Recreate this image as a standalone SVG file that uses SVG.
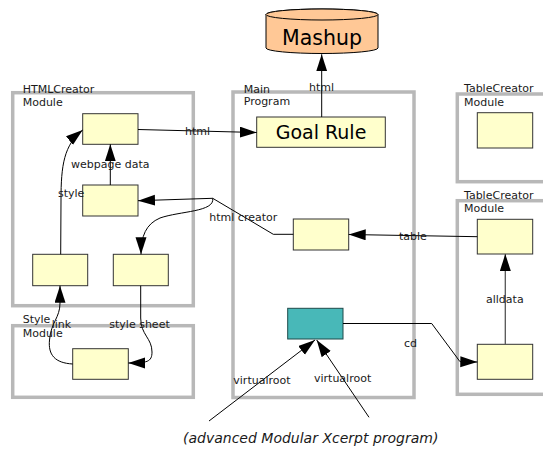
<svg xmlns="http://www.w3.org/2000/svg" width="543" height="456" viewBox="0 0 543 456">
<defs>
<marker id="ah" markerUnits="userSpaceOnUse" markerWidth="18" markerHeight="12" refX="17" refY="5.5" orient="auto">
<path d="M0,0 L17,5.5 L0,11 z" fill="#000"/>
</marker>
<style>
.mod{fill:none;stroke:#b8b8b8;stroke-width:3.5}
.box{fill:#ffffcc;stroke:#333;stroke-width:1}
.lbl{font-family:"DejaVu Sans",Verdana,sans-serif;font-size:11px;fill:#1a1a1a}
.c{fill:none;stroke:#000;stroke-width:1;marker-end:url(#ah)}
.n{fill:none;stroke:#000;stroke-width:1}
</style>
</defs>
<rect width="543" height="456" fill="#fff"/>

<g id="htmlcreator-module">
<rect class="mod" x="12.7" y="92.7" width="180.6" height="213"/>
<text class="lbl" x="22.7" y="92.5">HTMLCreator</text>
<text class="lbl" x="22.7" y="106">Module</text>
</g>
<g id="main-program">
<rect class="mod" x="233" y="92" width="181" height="305.5"/>
<text class="lbl" x="243.7" y="92.7">Main</text>
<text class="lbl" x="243.7" y="105.3">Program</text>
</g>
<g id="tablecreator-module-1">
<rect class="mod" x="457.3" y="94" width="100" height="87.7"/>
<text class="lbl" x="464" y="92.3">TableCreator</text>
<text class="lbl" x="464" y="105.7">Module</text>
</g>
<g id="tablecreator-module-2">
<rect class="mod" x="457.3" y="200.7" width="100" height="193.6"/>
<text class="lbl" x="464" y="199.3">TableCreator</text>
<text class="lbl" x="464" y="211.7">Module</text>
</g>
<g id="style-module">
<rect class="mod" x="12.7" y="325.7" width="180.6" height="71.6"/>
<text class="lbl" x="22.7" y="323.3">Style</text>
<text class="lbl" x="22.7" y="336.7">Module</text>
</g>

<g id="mashup">
<path d="M266,14.5 L266,48 A56,5.5 0 0 0 378,48 L378,14.5 A56,5.5 0 0 0 266,14.5 z" fill="#ffc896" stroke="#000" stroke-width="1"/>
<ellipse cx="322" cy="14.5" rx="56" ry="5.5" fill="#ffc896" stroke="#000" stroke-width="1"/>
<text x="322" y="45" text-anchor="middle" font-family="DejaVu Sans, sans-serif" font-size="20.5" fill="#000">Mashup</text>
</g>
<g id="goal-rule">
<rect class="box" x="256.7" y="117" width="128.6" height="30.3"/>
<text x="321" y="139.3" text-anchor="middle" font-family="DejaVu Sans, sans-serif" font-size="19" fill="#000">Goal Rule</text>
</g>
<g id="html-top"><rect class="box" x="82.7" y="113.7" width="55.3" height="30.6"/></g>
<g id="html-style"><rect class="box" x="82.7" y="185" width="55.3" height="31"/></g>
<g id="html-left"><rect class="box" x="32.7" y="254.3" width="55" height="31.4"/></g>
<g id="html-right"><rect class="box" x="113.3" y="254.3" width="55" height="31.4"/></g>
<g id="style-box"><rect class="box" x="72.7" y="348.7" width="55.6" height="30.6"/></g>
<g id="main-creator"><rect class="box" x="293.3" y="219" width="55.4" height="31"/></g>
<g id="main-root"><rect x="287.7" y="308.3" width="55.3" height="30.7" fill="#48b8b8" stroke="#1e4a4a" stroke-width="1"/></g>
<g id="table-top"><rect class="box" x="477.3" y="112.7" width="55.4" height="35.3"/></g>
<g id="table-mid"><rect class="box" x="477.3" y="219.3" width="55.4" height="34.7"/></g>
<g id="table-bottom"><rect class="box" x="477.3" y="344.3" width="55.4" height="35"/></g>

<g id="connectors">
<path class="c" d="M138,129.5 L256.7,132.5"/>
<text class="lbl" x="185" y="134.5">html</text>
<path class="c" d="M321.7,117 L321.7,54.3"/>
<text class="lbl" x="309" y="90.7">html</text>
<path class="c" d="M110.3,185 L110.3,144.3"/>
<text class="lbl" x="110.3" y="168" text-anchor="middle">webpage data</text>
<path class="c" d="M60.7,254.3 L61,200 C61,165 64,145 82.7,130"/>
<text class="lbl" x="58" y="196.7">style</text>
<path class="n" d="M293.3,234.3 L273.3,234.3 L212.7,198.3"/>
<path class="c" d="M212.7,198.3 L138,200.7"/>
<path class="c" d="M212.7,198.3 C215,212 180,211 160,218 C146,224 141,236 141,254.3"/>
<text class="lbl" x="209.3" y="220.7">html creator</text>
<path class="c" d="M477.3,236.7 L348.7,234.5"/>
<text class="lbl" x="399" y="239.5">table</text>
<path d="M505.3,344.3 L505.3,254" fill="none" stroke="#555" stroke-width="1.3" marker-end="url(#ah)"/>
<text class="lbl" x="486" y="303.3">alldata</text>
<path class="c" d="M72.7,364 C55,363 48,355 49.5,340 C51,322 60,318 60,303 L60,285.7"/>
<text class="lbl" x="51.7" y="328.3">link</text>
<path class="c" d="M140.7,285.7 L140.7,318 C140.7,335 152,338 152,352 C152,362 147,363 128.3,363"/>
<text class="lbl" x="109.3" y="328.3">style sheet</text>
<path class="c" d="M343,323.5 L431.7,323.5 L460,361.7 L477.3,362"/>
<text class="lbl" x="404" y="346.7">cd</text>
<path class="c" d="M209,421 L315,340"/>
<text class="lbl" x="233.3" y="384">virtualroot</text>
<path class="c" d="M369,417.3 L316.7,340"/>
<text class="lbl" x="314" y="382.3">virtualroot</text>
</g>
<text x="183" y="443" font-family="DejaVu Sans, sans-serif" font-style="italic" font-size="14" fill="#1a1a1a">(advanced Modular Xcerpt program)</text>
</svg>
